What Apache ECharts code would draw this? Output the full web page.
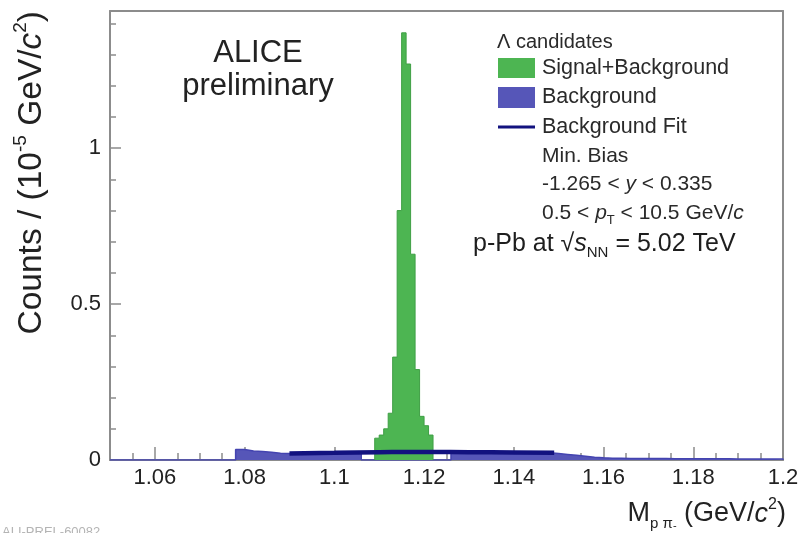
<!DOCTYPE html>
<html>
<head>
<meta charset="utf-8">
<title>Lambda invariant mass, p-Pb 5.02 TeV</title>
<script src="https://cdn.jsdelivr.net/npm/echarts@6/dist/echarts.min.js"></script>
<style>
  html, body { margin: 0; padding: 0; background: #ffffff; }
  #chart { width: 803px; height: 533px; }
</style>
</head>
<body>
<div id="chart"></div>
<script>
// ---- data (counts in units of 10^5 per GeV/c^2) ----
// Signal+Background histogram around the Lambda peak, 1 MeV bins (lower edges)
const signalBinLow = [1.109, 1.110, 1.111, 1.112, 1.113, 1.114, 1.115,
                      1.116, 1.117, 1.118, 1.119, 1.120, 1.121];
const signalBinWidth = 0.001;
const signalCounts = [0.07, 0.08, 0.10, 0.15, 0.33, 0.80, 1.37,
                      1.27, 0.66, 0.29, 0.14, 0.11, 0.08];

// Side-band background histogram, 2 MeV bins starting at 1.050
const bgBinStart = 1.050;
const bgBinWidth = 0.002;
const bgCounts = [
  0, 0, 0, 0, 0, 0, 0, 0, 0, 0, 0, 0, 0, 0,
  0.034, 0.029, 0.027, 0.025, 0.022, 0.021, 0.021, 0.021, 0.022, 0.022,
  0.023, 0.023, 0.024, 0.025,
  0, 0, 0, 0, 0, 0, 0, 0, 0, 0,
  0.028, 0.028, 0.027, 0.027, 0.027, 0.026, 0.026, 0.026, 0.025, 0.024,
  0.023, 0.021, 0.018, 0.015, 0.012, 0.009, 0.007,
  0.006, 0.006, 0.005, 0.005, 0.005, 0.005, 0.005, 0.004, 0.004, 0.004,
  0.004, 0.004, 0.004, 0.004, 0.003, 0.003, 0.003, 0.003, 0.003, 0.003
];

// Background fit curve
const fitMass   = [1.090, 1.100, 1.110, 1.120, 1.130, 1.140, 1.149];
const fitCounts = [0.021, 0.023, 0.025, 0.026, 0.025, 0.024, 0.023];

// Axis ticks and labels
const xTickLabels = [1.06, 1.08, 1.10, 1.12, 1.14, 1.16, 1.18, 1.20];
const yTickLabels = [0, 0.5, 1];
const X_MIN = 1.05, X_MAX = 1.20, Y_MIN = 0, Y_MAX = 1.44;

const xMinorTicks = [];
for (let i = 0; i <= 30; i++) xMinorTicks.push(+(X_MIN + i * 0.005).toFixed(3));
const yMinorTicks = [];
for (let i = 0; i <= 14; i++) yMinorTicks.push(+(i * 0.1).toFixed(1));

// ---- helpers ----
// Build a stepped outline (step: 'end') from bin lower edges and contents
function histPoints(lows, width, counts) {
  const pts = [[lows[0], 0]];
  counts.forEach((c, i) => pts.push([lows[i], c]));
  const end = +(lows[lows.length - 1] + width).toFixed(4);
  pts.push([end, counts[counts.length - 1]]);
  pts.push([end, 0]);
  return pts;
}
const bgBinLow = bgCounts.map((_, i) => +(bgBinStart + i * bgBinWidth).toFixed(4));

const FONT = '"Liberation Sans", Arial, Helvetica, sans-serif';
const FRAME = '#8c8c8c';
const TXT = '#222222';
const LEG = '#2a2a2a';
const GREEN = '#4db552';
const BLUE = '#5656b8';
const NAVY = '#12127f';

const chart = echarts.init(document.getElementById('chart'), null, { renderer: 'canvas' });

const frameLine = { show: true, onZero: false, lineStyle: { color: FRAME, width: 2 } };

function legendText(text, y, size) {
  return { type: 'text', style: { text, x: 542, y, verticalAlign: 'middle',
    fontSize: size, fontFamily: FONT, fill: LEG } };
}

chart.setOption({
  animation: false,
  backgroundColor: '#ffffff',
  grid: { left: 110, right: 20, top: 11, bottom: 73 },
  xAxis: [
    {
      type: 'value', min: X_MIN, max: X_MAX, position: 'bottom',
      axisLine: frameLine,
      axisTick: { show: true, inside: true, length: 13, customValues: xTickLabels,
                  lineStyle: { color: FRAME, width: 1.5 } },
      axisLabel: { customValues: xTickLabels, fontSize: 22, fontFamily: FONT, color: TXT,
                   margin: 7, formatter: v => String(+(+v).toFixed(2)) },
      splitLine: { show: false }
    },
    {
      type: 'value', min: X_MIN, max: X_MAX, position: 'bottom',
      axisLine: { show: false },
      axisTick: { show: true, inside: true, length: 7, customValues: xMinorTicks,
                  lineStyle: { color: FRAME, width: 1.5 } },
      axisLabel: { show: false }, splitLine: { show: false }
    },
    {
      type: 'value', min: X_MIN, max: X_MAX, position: 'top',
      axisLine: frameLine, axisTick: { show: false }, axisLabel: { show: false },
      splitLine: { show: false }
    }
  ],
  yAxis: [
    {
      type: 'value', min: Y_MIN, max: Y_MAX, position: 'left',
      axisLine: frameLine,
      axisTick: { show: true, inside: true, length: 11, customValues: yTickLabels,
                  lineStyle: { color: FRAME, width: 1.5 } },
      axisLabel: { customValues: yTickLabels, fontSize: 22, fontFamily: FONT, color: TXT,
                   margin: 9, formatter: v => String(+(+v).toFixed(1)) },
      splitLine: { show: false }
    },
    {
      type: 'value', min: Y_MIN, max: Y_MAX, position: 'left',
      axisLine: { show: false },
      axisTick: { show: true, inside: true, length: 6, customValues: yMinorTicks,
                  lineStyle: { color: FRAME, width: 1.5 } },
      axisLabel: { show: false }, splitLine: { show: false }
    },
    {
      type: 'value', min: Y_MIN, max: Y_MAX, position: 'right',
      axisLine: frameLine, axisTick: { show: false }, axisLabel: { show: false },
      splitLine: { show: false }
    }
  ],
  series: [
    {
      name: 'Background', type: 'line', step: 'end', z: 2,
      xAxisIndex: 0, yAxisIndex: 0,
      data: histPoints(bgBinLow, bgBinWidth, bgCounts),
      symbol: 'none',
      lineStyle: { color: '#4444b0', width: 1.5 },
      areaStyle: { color: BLUE, opacity: 1 }
    },
    {
      name: 'Signal+Background', type: 'line', step: 'end', z: 3,
      xAxisIndex: 0, yAxisIndex: 0,
      data: histPoints(signalBinLow, signalBinWidth, signalCounts),
      symbol: 'none',
      lineStyle: { color: '#3f9f45', width: 1 },
      areaStyle: { color: GREEN, opacity: 1 }
    },
    {
      name: 'Background Fit', type: 'line', smooth: true, z: 4,
      xAxisIndex: 0, yAxisIndex: 0,
      data: fitMass.map((m, i) => [m, fitCounts[i]]),
      symbol: 'none',
      lineStyle: { color: NAVY, width: 4.5 }
    }
  ],
  graphic: [
    // experiment label
    { type: 'text', style: { text: 'ALICE', x: 258, y: 53, align: 'center', verticalAlign: 'middle',
      fontSize: 31, fontFamily: FONT, fill: TXT } },
    { type: 'text', style: { text: 'preliminary', x: 258, y: 86, align: 'center', verticalAlign: 'middle',
      fontSize: 31, fontFamily: FONT, fill: TXT } },

    // legend block
    { type: 'text', style: { text: 'Λ candidates', x: 497, y: 42, verticalAlign: 'middle',
      fontSize: 20, fontFamily: FONT, fill: LEG } },
    { type: 'rect', shape: { x: 498, y: 58, width: 37, height: 20 }, style: { fill: GREEN } },
    legendText('Signal+Background', 68, 21.5),
    { type: 'rect', shape: { x: 498, y: 87, width: 37, height: 21 }, style: { fill: BLUE } },
    legendText('Background', 97, 21.5),
    { type: 'line', shape: { x1: 498, y1: 127, x2: 535, y2: 127 }, style: { stroke: NAVY, lineWidth: 3 } },
    legendText('Background Fit', 127, 21.5),
    legendText('Min. Bias', 156, 21),
    { type: 'text', style: {
      text: '{n|-1.265 < }{i|y}{n| < 0.335}', x: 542, y: 184, verticalAlign: 'middle',
      rich: {
        n: { fontSize: 21, fontFamily: FONT, fill: LEG },
        i: { fontSize: 21, fontFamily: FONT, fontStyle: 'italic', fill: LEG }
      } } },
    { type: 'text', style: {
      text: '{n|0.5 < }{i|p}{sub|T}{n| < 10.5 GeV/}{i|c}', x: 542, y: 213, verticalAlign: 'middle',
      rich: {
        n: { fontSize: 21, fontFamily: FONT, fill: LEG, lineHeight: 28 },
        i: { fontSize: 21, fontFamily: FONT, fontStyle: 'italic', fill: LEG, lineHeight: 28 },
        sub: { fontSize: 13, fontFamily: FONT, fill: LEG, lineHeight: 13, verticalAlign: 'bottom' }
      } } },
    { type: 'text', style: {
      text: '{n|p-Pb at }{r|√}{i|s}{sub|NN}{n| = 5.02 TeV}', x: 473, y: 244, verticalAlign: 'middle',
      rich: {
        n: { fontSize: 25, fontFamily: FONT, fill: '#1e1e1e', lineHeight: 33 },
        r: { fontSize: 25, fontFamily: FONT, fill: '#1e1e1e', lineHeight: 33 },
        i: { fontSize: 25, fontFamily: FONT, fontStyle: 'italic', fill: '#1e1e1e', lineHeight: 33 },
        sub: { fontSize: 15, fontFamily: FONT, fill: '#1e1e1e', lineHeight: 15, verticalAlign: 'bottom' }
      } } },

    // x-axis title
    { type: 'text', style: {
      text: '{n|M}{sub|p π}{subs|-}{n| (GeV/}{i|c}{sup|2}{n|)}', x: 786, y: 514,
      align: 'right', verticalAlign: 'middle',
      rich: {
        n: { fontSize: 27, fontFamily: FONT, fill: TXT, lineHeight: 34 },
        i: { fontSize: 27, fontFamily: FONT, fontStyle: 'italic', fill: TXT, lineHeight: 34 },
        sub: { fontSize: 15, fontFamily: FONT, fill: TXT, lineHeight: 15, verticalAlign: 'bottom' },
        subs: { fontSize: 11, fontFamily: FONT, fill: TXT, lineHeight: 22, verticalAlign: 'bottom' },
        sup: { fontSize: 16, fontFamily: FONT, fill: TXT, lineHeight: 16, verticalAlign: 'top' }
      } } },

    // y-axis title (reads bottom to top, ends at the top of the frame)
    { type: 'text', x: 32, y: 11, rotation: Math.PI / 2, style: {
      text: '{n|Counts / (10}{sup|-5}{n| GeV/}{i|c}{sup|2}{n|)}',
      align: 'right', verticalAlign: 'middle',
      rich: {
        n: { fontSize: 33.5, fontFamily: FONT, fill: TXT, lineHeight: 41 },
        i: { fontSize: 33.5, fontFamily: FONT, fontStyle: 'italic', fill: TXT, lineHeight: 41 },
        sup: { fontSize: 19, fontFamily: FONT, fill: TXT, lineHeight: 19, verticalAlign: 'top' }
      } } },

    // figure reference tag
    { type: 'text', style: { text: 'ALI-PREL-60082', x: 2, y: 526, verticalAlign: 'top',
      fontSize: 13, fontFamily: FONT, fill: '#b4b4b4' } }
  ]
});
</script>
</body>
</html>
